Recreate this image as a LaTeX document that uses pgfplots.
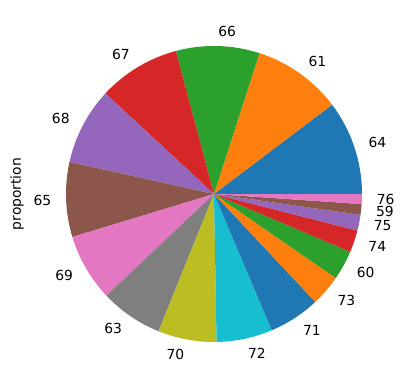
\documentclass[border=0pt]{standalone}
\usepackage{fontspec}
\setmainfont{DejaVu Sans}
\usepackage{pgfplots}
\usepackage{pgfplotstable}
\pgfplotsset{compat=1.18}
\definecolor{c0}{HTML}{1F77B4}
\definecolor{c1}{HTML}{FF7F0E}
\definecolor{c2}{HTML}{2CA02C}
\definecolor{c3}{HTML}{D62728}
\definecolor{c4}{HTML}{9467BD}
\definecolor{c5}{HTML}{8C564B}
\definecolor{c6}{HTML}{E377C2}
\definecolor{c7}{HTML}{7F7F7F}
\definecolor{c8}{HTML}{BCBD22}
\definecolor{c9}{HTML}{17BECF}
% slice sizes in degrees of the full circle
\pgfplotstableread{
label value col
64 37.1 c0
61 35.0 c1
66 32.85 c2
67 32.25 c3
68 30.3 c4
65 29.4 c5
69 26.5 c6
63 24.6 c7
70 23.0 c8
72 22.0 c9
71 20.2 c0
73 12.2 c1
60 11.6 c2
74 8.7 c3
75 6.2 c4
59 4.2 c5
76 3.9 c6
}\piedata
\begin{document}
\begin{tikzpicture}[font=\fontsize{13.9}{16}\selectfont]
\path[use as bounding box] (-214bp,-195bp) rectangle (195bp,194bp);
\begin{axis}[at={(0,0)}, anchor=center, scale only axis,
  width=296bp, height=296bp,
  xmin=-1, xmax=1, ymin=-1, ymax=1,
  axis lines=none, xtick=\empty, ytick=\empty, clip=false]
\gdef\pieCum{0}
\pgfplotsforeachungrouped \i in {0,...,16}{%
  \pgfplotstablegetelem{\i}{value}\of\piedata \let\pieV\pgfplotsretval
  \pgfplotstablegetelem{\i}{label}\of\piedata \let\pieL\pgfplotsretval
  \pgfplotstablegetelem{\i}{col}\of\piedata \let\pieC\pgfplotsretval
  \pgfmathsetmacro\pieA{\pieCum}%
  \pgfmathsetmacro\pieB{\pieCum+\pieV}%
  \pgfmathsetmacro\pieM{(\pieA+\pieB)/2}%
  \pgfmathsetmacro\pieXa{cos(\pieA)}%
  \pgfmathsetmacro\pieYa{sin(\pieA)}%
  \pgfmathsetmacro\pieXm{1.1*cos(\pieM)}%
  \pgfmathsetmacro\pieYm{1.1*sin(\pieM)}%
  \ifdim\pieXm pt>0pt \def\pieAnc{west}\else\def\pieAnc{east}\fi
  \edef\temp{\noexpand\fill[\pieC] (axis cs:0,0) -- (axis cs:\pieXa,\pieYa) arc[start angle=\pieA, end angle=\pieB, radius=148bp] -- cycle;
    \noexpand\node[anchor=\pieAnc, inner sep=0pt] at (axis cs:\pieXm,\pieYm) {\pieL};}%
  \temp
  \xdef\pieCum{\pieB}%
}
\node[rotate=90, anchor=center, inner sep=0pt] at (axis description cs:-0.1655,0.5) {proportion};
\end{axis}
\end{tikzpicture}
\end{document}
